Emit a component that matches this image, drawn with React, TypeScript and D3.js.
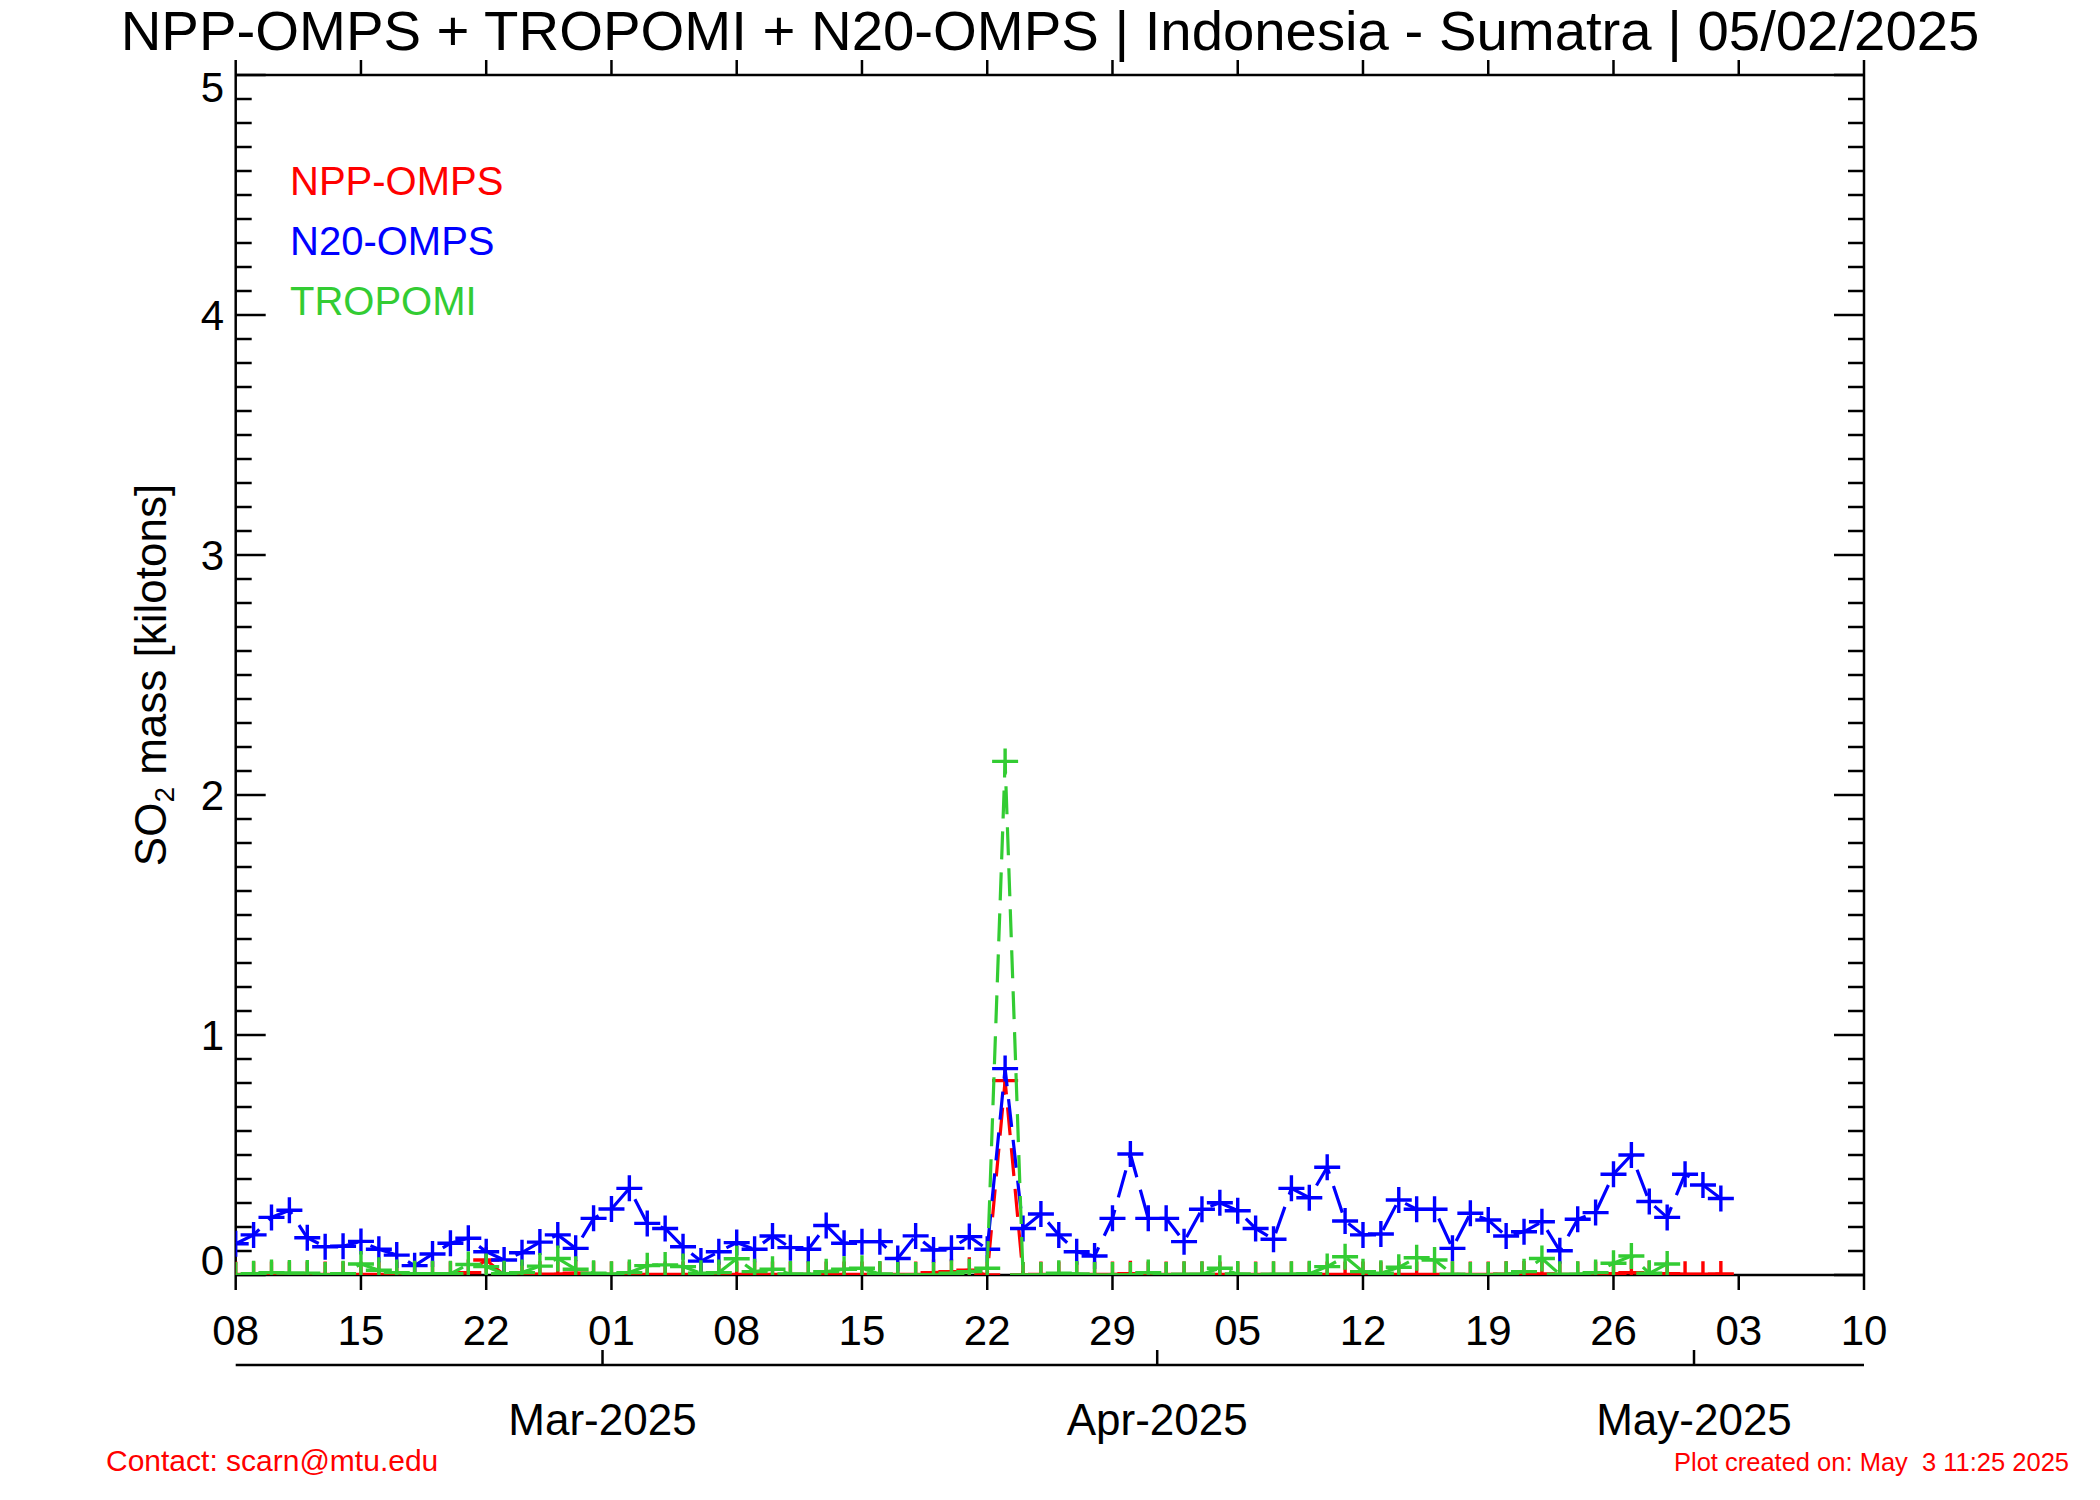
import React from 'react';
import * as d3 from 'd3';

// ---------- data (daily values, kilotons SO2) ----------
const startDate = '2025-02-08';

const nppValues = [
  0.002, 0.002, 0.002, 0.002, 0.002, 0.002, 0.002, 0.002, 0.002, 0.002,
  0.002, 0.002, 0.002, 0.01, 0.0625, 0.0, 0.003, 0.003, 0.003, 0.008,
  0.003, 0.002, 0.002, 0.002, 0.002, 0.002, 0.002, 0.002, 0.002, 0.002,
  0.002, 0.002, 0.002, 0.002, 0.002, 0.002, 0.002, 0.002, 0.002, 0.01,
  0.014, 0.02, 0.0, 0.81, 0.0, 0.002, 0.002, 0.002, 0.002, 0.002,
  0.005, 0.002, 0.002, 0.002, 0.002, 0.002, 0.002, 0.002, 0.002, 0.002,
  0.002, 0.002, 0.002, 0.002, 0.002, 0.002, 0.002, 0.002, 0.002, 0.002,
  0.002, 0.003, 0.004, 0.004, 0.002, 0.002, 0.002, 0.005, 0.01, 0.005,
  0.005, 0.003, 0.003, 0.004,
];

const n20Values = [
  0.13, 0.167, 0.24, 0.27, 0.155, 0.118, 0.12, 0.14, 0.107, 0.083,
  0.039, 0.0875, 0.132, 0.153, 0.097, 0.0625, 0.093, 0.137, 0.167, 0.111,
  0.236, 0.275, 0.361, 0.215, 0.194, 0.118, 0.058, 0.097, 0.135, 0.107,
  0.1625, 0.114, 0.107, 0.206, 0.132, 0.139, 0.139, 0.069, 0.163, 0.104,
  0.111, 0.16, 0.107, 0.86, 0.194, 0.254, 0.167, 0.097, 0.079, 0.236,
  0.504, 0.236, 0.236, 0.139, 0.274, 0.301, 0.268, 0.194, 0.149, 0.361,
  0.322, 0.449, 0.225, 0.167, 0.171, 0.3125, 0.274, 0.274, 0.111, 0.257,
  0.229, 0.1625, 0.18, 0.222, 0.101, 0.232, 0.26, 0.42, 0.5, 0.306,
  0.24, 0.42, 0.375, 0.319,
];

const tropomiValues = [
  0.0, 0.005, 0.01, 0.008, 0.008, 0.0, 0.005, 0.046, 0.02, 0.01,
  0.005, 0.005, 0.005, 0.044, 0.035, 0.005, 0.01, 0.037, 0.069, 0.024,
  0.007, 0.003, 0.01, 0.039, 0.042, 0.035, 0.007, 0.01, 0.068, 0.014,
  0.024, 0.004, 0.003, 0.014, 0.024, 0.028, 0.004, 0.0, 0.0, 0.0,
  0.007, 0.014, 0.028, 2.14, 0.0, 0.0, 0.007, 0.004, 0.0, 0.0,
  0.0, 0.01, 0.0, 0.003, 0.003, 0.028, 0.004, 0.0, 0.003, 0.003,
  0.005, 0.035, 0.076, 0.014, 0.007, 0.032, 0.072, 0.0625, 0.003, 0.0,
  0.0, 0.003, 0.014, 0.069, 0.003, 0.003, 0.01, 0.049, 0.079, 0.007,
  0.046,
];

const xTickDates = [
  '2025-02-08', '2025-02-15', '2025-02-22', '2025-03-01', '2025-03-08',
  '2025-03-15', '2025-03-22', '2025-03-29', '2025-04-05', '2025-04-12',
  '2025-04-19', '2025-04-26', '2025-05-03', '2025-05-10',
];
const xTickLabels = ['08', '15', '22', '01', '08', '15', '22', '29', '05', '12', '19', '26', '03', '10'];

const monthTickDates = ['2025-03-01', '2025-04-01', '2025-05-01'];
const monthLabels = ['Mar-2025', 'Apr-2025', 'May-2025'];

const yTicks = [0, 1, 2, 3, 4, 5];

const legendNames = ['NPP-OMPS', 'N20-OMPS', 'TROPOMI'];
const legendColors = ['#ff0000', '#0000ff', '#33cc33'];

const titleText = 'NPP-OMPS + TROPOMI + N20-OMPS | Indonesia - Sumatra | 05/02/2025';
const contactText = 'Contact: scarn@mtu.edu';
const createdText = 'Plot created on: May  3 11:25 2025';

// ---------- layout ----------
const W = 2100;
const H = 1500;
const L = 235.7;
const R = 1864;
const T = 75;
const B = 1275;
const AXIS2_Y = 1365;
const FONT = "'Liberation Sans', Arial, Helvetica, sans-serif";

const parse = d3.utcParse('%Y-%m-%d');

export default function App() {
  const d0 = parse(xTickDates[0]) as Date;
  const d1 = parse(xTickDates[xTickDates.length - 1]) as Date;
  const x = d3.scaleUtc().domain([d0, d1]).range([L, R]);
  // secondary month axis (offset by half a day, as in the original)
  const x2 = d3
    .scaleUtc()
    .domain([d3.utcHour.offset(d0, 12), d3.utcHour.offset(d1, 12)])
    .range([L, R]);
  const y = d3.scaleLinear().domain([0, 5]).range([B, T]);

  const start = parse(startDate) as Date;
  const toPts = (vals: number[]) =>
    vals.map((v, i) => ({ date: d3.utcDay.offset(start, i), v }));

  const series = [
    { name: 'npp', pts: toPts(nppValues), color: legendColors[0] },
    { name: 'n20', pts: toPts(n20Values), color: legendColors[1] },
    { name: 'tropomi', pts: toPts(tropomiValues), color: legendColors[2] },
  ];

  const line = d3
    .line<{ date: Date; v: number }>()
    .x((d) => x(d.date))
    .y((d) => y(d.v));

  const minorTicks = d3.range(0, 50.5, 1).map((k) => k / 10).filter((v) => Math.abs(v - Math.round(v)) > 1e-6);

  const MS = 13; // marker arm length

  return (
    <svg
      width={W}
      height={H}
      viewBox={`0 0 ${W} ${H}`}
      style={{ position: 'absolute', left: 0, top: 0, background: '#fff' }}
      fontFamily={FONT}
    >
      <rect x={0} y={0} width={W} height={H} fill="#fff" />
      <defs>
        <clipPath id="plotClip">
          <rect x={L} y={T} width={R - L} height={B - T} />
        </clipPath>
      </defs>

      {/* title */}
      <text x={1050} y={49.5} fontSize={56.3} textAnchor="middle" fill="#000">
        {titleText}
      </text>

      {/* axes box */}
      <g stroke="#000" strokeWidth={2.5} fill="none">
        <line x1={L} y1={B} x2={R} y2={B} />
        <line x1={L} y1={T} x2={R} y2={T} />
        <line x1={L} y1={T} x2={L} y2={B} />
        <line x1={R} y1={T} x2={R} y2={B} />
        {xTickDates.map((s) => {
          const px = x(parse(s) as Date);
          return (
            <g key={'xt' + s}>
              <line x1={px} y1={B} x2={px} y2={B + 15} />
              <line x1={px} y1={T} x2={px} y2={T - 15} />
            </g>
          );
        })}
        {yTicks.map((v) => (
          <g key={'yt' + v}>
            <line x1={L} y1={y(v)} x2={L + 30} y2={y(v)} />
            <line x1={R} y1={y(v)} x2={R - 30} y2={y(v)} />
          </g>
        ))}
        {minorTicks.map((v) => (
          <g key={'ym' + v}>
            <line x1={L} y1={y(v)} x2={L + 16} y2={y(v)} />
            <line x1={R} y1={y(v)} x2={R - 16} y2={y(v)} />
          </g>
        ))}
        <line x1={L} y1={AXIS2_Y} x2={R} y2={AXIS2_Y} />
        {monthTickDates.map((s) => {
          const px = x2(parse(s) as Date);
          return <line key={'mt' + s} x1={px} y1={AXIS2_Y} x2={px} y2={AXIS2_Y - 15} />;
        })}
      </g>

      {/* x tick labels */}
      {xTickDates.map((s, i) => (
        <text key={'xl' + s} x={x(parse(s) as Date)} y={1345} fontSize={42} textAnchor="middle" fill="#000">
          {xTickLabels[i]}
        </text>
      ))}

      {/* month labels */}
      {monthTickDates.map((s, i) => (
        <text key={'ml' + s} x={x2(parse(s) as Date)} y={1435} fontSize={44} textAnchor="middle" fill="#000">
          {monthLabels[i]}
        </text>
      ))}

      {/* y tick labels */}
      {yTicks.map((v, i) => {
        let cy = y(v);
        if (i === 0) cy = B - 15;
        if (i === yTicks.length - 1) cy = T + 12;
        return (
          <text key={'yl' + v} x={224} y={cy + 15} fontSize={42} textAnchor="end" fill="#000">
            {v}
          </text>
        );
      })}

      {/* y axis title */}
      <text
        transform={`translate(${166}, ${(T + B) / 2}) rotate(-90)`}
        fontSize={44}
        textAnchor="middle"
        fill="#000"
      >
        SO<tspan fontSize={28} dy={8}>2</tspan>
        <tspan dy={-8}> mass [kilotons]</tspan>
      </text>

      {/* data */}
      <g clipPath="url(#plotClip)">
        {series.map((s) => (
          <g key={s.name}>
            <path
              d={line(s.pts) || ''}
              fill="none"
              stroke={s.color}
              strokeWidth={3.2}
              strokeDasharray="28,13"
            />
            <path
              d={s.pts
                .map((p) => {
                  const px = x(p.date);
                  const py = y(p.v);
                  return `M${px - MS},${py}H${px + MS}M${px},${py - MS}V${py + MS}`;
                })
                .join('')}
              fill="none"
              stroke={s.color}
              strokeWidth={3.4}
            />
          </g>
        ))}
      </g>

      {/* legend */}
      {legendNames.map((n, i) => (
        <text key={n} x={290} y={195 + i * 60} fontSize={40} fill={legendColors[i]}>
          {n}
        </text>
      ))}

      {/* footer */}
      <text x={106} y={1471} fontSize={30} fill="#ff0000">
        {contactText}
      </text>
      <text
        x={2069}
        y={1471}
        fontSize={25.5}
        textAnchor="end"
        fill="#ff0000"
        style={{ whiteSpace: 'pre' }}
      >
        {createdText}
      </text>
    </svg>
  );
}
